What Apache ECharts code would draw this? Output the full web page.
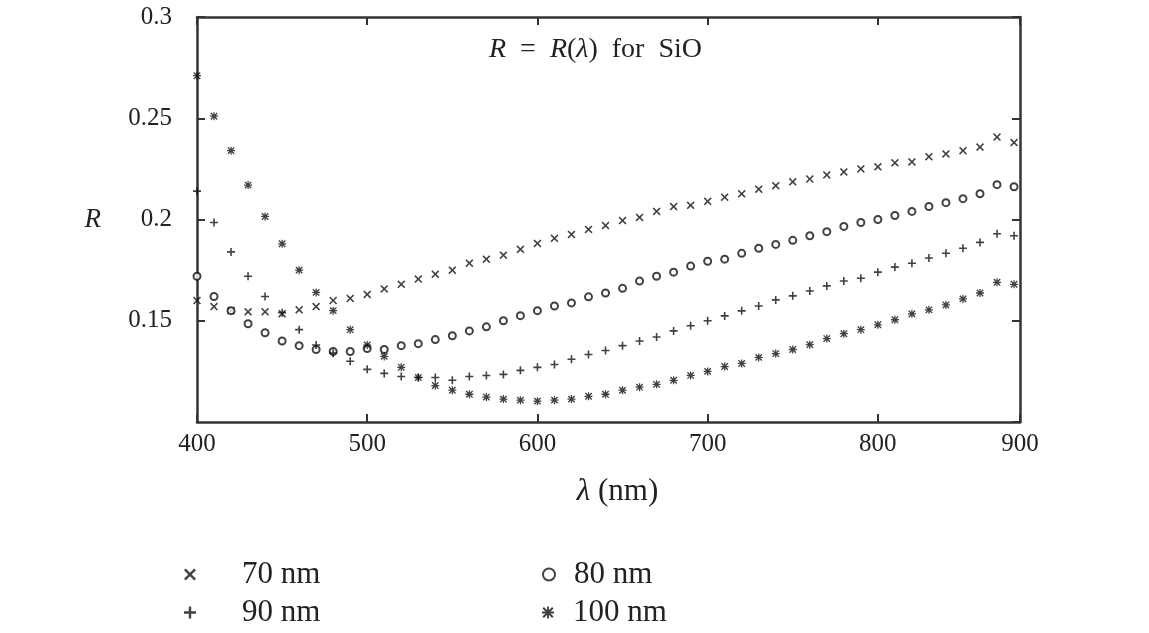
<!DOCTYPE html>
<html>
<head>
<meta charset="utf-8">
<script src="https://cdn.jsdelivr.net/npm/echarts@6/dist/echarts.min.js"></script>
<style>
  html, body { margin: 0; padding: 0; background: #fff; }
  #chart { width: 1149px; height: 633px; }
</style>
</head>
<body>
<div id="chart"></div>
<script>
// wavelength (nm), one point every 10 nm
const lambda = [400,410,420,430,440,450,460,470,480,490,500,510,520,530,540,550,560,570,580,590,
  600,610,620,630,640,650,660,670,680,690,700,710,720,730,740,750,760,770,780,790,
  800,810,820,830,840,850,860,870,880];

const r70 = [0.160,0.157,0.155,0.1544,0.1544,0.1535,0.1554,0.157,0.160,0.161,0.163,0.1657,0.168,0.1706,0.173,0.175,0.1784,0.1804,0.1824,0.1853,
  0.1882,0.1907,0.1926,0.1951,0.197,0.1995,0.201,0.204,0.2064,0.207,0.209,0.211,0.2127,0.215,0.2167,0.2186,0.22,0.222,0.2235,0.225,
  0.226,0.228,0.2284,0.231,0.2324,0.234,0.2358,0.2407,0.238];

const r80 = [0.172,0.162,0.155,0.1485,0.1441,0.140,0.1377,0.1358,0.1348,0.1348,0.1363,0.1358,0.1377,0.1387,0.1407,0.1426,0.145,0.147,0.150,0.1525,
  0.155,0.1573,0.1588,0.1618,0.1637,0.166,0.1696,0.172,0.174,0.177,0.1794,0.1804,0.1833,0.1858,0.1877,0.1897,0.192,0.194,0.1966,0.1985,
  0.200,0.202,0.204,0.2064,0.2083,0.2103,0.2127,0.2172,0.2162];

const r90 = [0.214,0.1985,0.184,0.172,0.162,0.154,0.1456,0.138,0.134,0.130,0.126,0.124,0.1225,0.122,0.122,0.1206,0.1225,0.123,0.1235,0.1255,
  0.127,0.1284,0.131,0.1333,0.1353,0.1377,0.140,0.142,0.145,0.1475,0.150,0.1524,0.1549,0.1573,0.1603,0.1623,0.1647,0.1672,0.1696,0.171,
  0.174,0.1765,0.1784,0.181,0.1833,0.1858,0.1887,0.193,0.192];

const r100 = [0.271,0.251,0.234,0.217,0.2015,0.188,0.175,0.164,0.155,0.1456,0.138,0.1324,0.127,0.122,0.118,0.1157,0.1137,0.1123,0.1113,0.1108,
  0.1103,0.1108,0.1113,0.1127,0.1137,0.1157,0.1172,0.1186,0.1206,0.123,0.125,0.1274,0.1289,0.1319,0.1338,0.1358,0.1382,0.1412,0.1436,0.1456,
  0.148,0.1505,0.1534,0.1554,0.1578,0.1608,0.1637,0.169,0.168];

const seriesNames = ['70 nm', '80 nm', '90 nm', '100 nm'];
const yTicks = [0.1, 0.3, 0.05];     // min, max, step
const xTicks = [400, 883.5, 100];    // axis ends at the frame, labelled 900

const ink = '#111';
const serif = '"Liberation Serif", "DejaVu Serif", serif';

const crossPath = 'path://M1.4,0L5,3.6L8.6,0L10,1.4L6.4,5L10,8.6L8.6,10L5,6.4L1.4,10L0,8.6L3.6,5L0,1.4Z';
const plusPath = 'path://M4,0H6V4H10V6H6V10H4V6H0V4H4Z';
const starPath = 'path://M4.2,0H5.8V10H4.2Z M0,4.2H10V5.8H0Z M0.4,1.6L1.6,0.4L9.6,8.4L8.4,9.6Z M8.4,0.4L9.6,1.6L1.6,9.6L0.4,8.4Z';
const symbols = [crossPath, 'emptyCircle', plusPath, starPath];
const values = [r70, r80, r90, r100];

let mychart = echarts.init(document.getElementById('chart'));

function pts(arr) {
  return lambda.map((l, i) => [l, arr[i]]);
}

function axisBase() {
  return {
    axisLine: { show: true, onZero: false, lineStyle: { color: '#333', width: 2.5 } },
    axisTick: { show: true, inside: true, length: 8, lineStyle: { color: '#333', width: 2 } },
    splitLine: { show: false }
  };
}

// legend icon left/top and gap before the text
const legendPos = [[179, 554, 41], [537, 554, 14], [179, 592, 41], [537, 592, 14]];

mychart.setOption({
  backgroundColor: '#fff',
  animation: false,
  title: {
    text: '{i|R}\u2002=\u2002{i|R}({i|λ})\u2002for\u2002SiO',
    left: 484,
    top: 31,
    textStyle: {
      fontFamily: serif, fontSize: 28, fontWeight: 'normal', color: '#222',
      rich: { i: { fontFamily: serif, fontSize: 28, fontStyle: 'italic', color: '#222' } }
    }
  },
  grid: { left: 197, right: 129, top: 17, bottom: 211 },
  legend: seriesNames.map((n, i) => ({
    data: [{ name: n, icon: symbols[i], itemStyle: { color: ink, borderColor: ink, borderWidth: i === 1 ? 2 : 0 } }],
    left: legendPos[i][0],
    top: legendPos[i][1],
    itemWidth: 12,
    itemHeight: 12,
    selectedMode: false,
    formatter: '{pad|}{name}',
    textStyle: {
      fontFamily: serif, fontSize: 31, color: '#222',
      rich: { pad: { width: legendPos[i][2] } }
    }
  })),
  xAxis: [
    Object.assign(axisBase(), {
      type: 'value',
      min: xTicks[0], max: xTicks[1], interval: xTicks[2],
      name: '{i|λ} (nm)',
      nameLocation: 'middle',
      nameGap: 54,
      nameTextStyle: {
        fontFamily: serif, fontSize: 31, color: '#222',
        padding: [0, 0, 0, 18],
        rich: { i: { fontFamily: serif, fontSize: 31, fontStyle: 'italic', color: '#222' } }
      },
      axisLabel: {
        fontFamily: serif, fontSize: 25, color: '#222', margin: 10,
        showMaxLabel: true,
        formatter: (v) => (v > 850 ? '900' : String(v))
      }
    }),
    Object.assign(axisBase(), {
      type: 'value', position: 'top',
      min: xTicks[0], max: xTicks[1], interval: xTicks[2],
      axisLabel: { show: false }
    })
  ],
  yAxis: [
    Object.assign(axisBase(), {
      type: 'value',
      min: yTicks[0], max: yTicks[1], interval: yTicks[2],
      name: 'R',
      nameLocation: 'middle',
      nameRotate: 0,
      nameGap: 96,
      nameTextStyle: { fontFamily: serif, fontSize: 27, fontStyle: 'italic', color: '#222' },
      axisLabel: {
        fontFamily: serif, fontSize: 25, color: '#222', margin: 25,
        showMinLabel: false
      }
    }),
    Object.assign(axisBase(), {
      type: 'value', position: 'right',
      min: yTicks[0], max: yTicks[1], interval: yTicks[2],
      axisLabel: { show: false }
    })
  ],
  series: seriesNames.map((n, i) => ({
    name: n,
    type: 'scatter',
    data: pts(values[i]),
    symbol: symbols[i],
    symbolSize: i === 1 ? 7 : 8,
    itemStyle: i === 1
      ? { color: ink, borderColor: ink, borderWidth: 1.6 }
      : { color: ink },
    clip: true
  }))
});
</script>
</body>
</html>
